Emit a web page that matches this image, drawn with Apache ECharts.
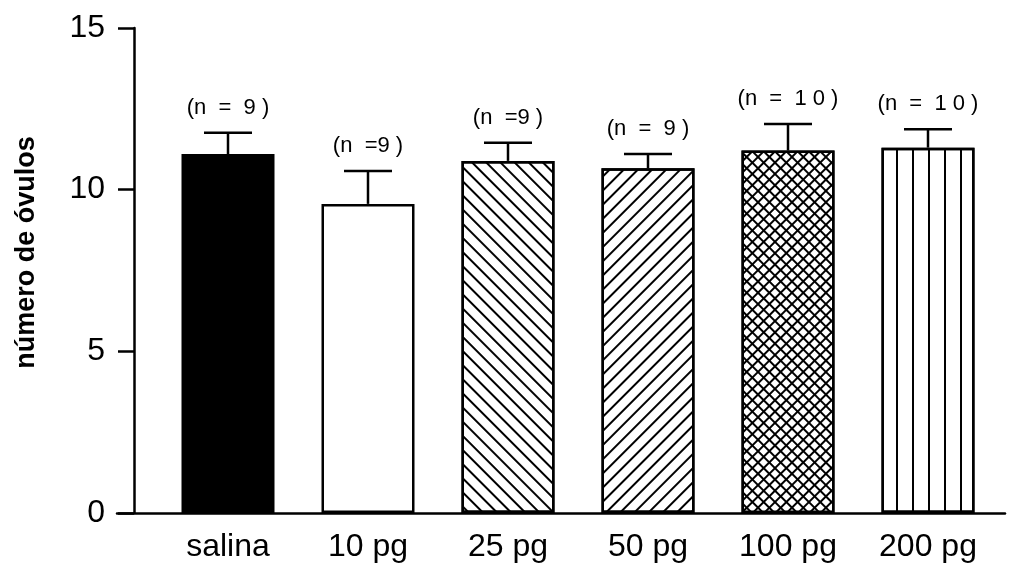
<!DOCTYPE html>
<html>
<head>
<meta charset="utf-8">
<script src="https://cdn.jsdelivr.net/npm/echarts@6/dist/echarts.min.js"></script>
<style>html,body{margin:0;padding:0;background:#fff}#c{width:1011px;height:567px}</style>
</head>
<body>
<div id="c"></div>
<script>
const categories = ['salina', '10 pg', '25 pg', '50 pg', '100 pg', '200 pg'];
const means = [11.10, 9.56, 10.89, 10.66, 11.21, 11.30];
const sems = [0.66, 1.02, 0.56, 0.44, 0.82, 0.57];
const nLabels = ['(n  =  9 )', '(n  =9 )', '(n  =9 )', '(n  =  9 )', '(n  =  1 0 )', '(n  =  1 0 )'];
const yTicks = [0, 5, 10, 15];

const FONT = '"Liberation Sans", Arial, Helvetica, sans-serif';
const W = 2.5;

const styles = [
  { color: '#000' },
  { color: '#fff' },
  { color: '#fff', decal: { symbol: 'rect', color: '#000', dashArrayX: [1, 0], dashArrayY: [1.5, 8], rotation: Math.PI / 4 } },
  { color: '#fff', decal: { symbol: 'rect', color: '#000', dashArrayX: [1, 0], dashArrayY: [1.5, 8], rotation: -Math.PI / 4 } },
  { color: '#000', decal: { symbol: 'rect', color: '#fff', dashArrayX: [5.4, 1.7], dashArrayY: [5.4, 1.7], rotation: Math.PI / 4 } },
  { color: '#fff', decal: { symbol: 'rect', color: '#000', dashArrayX: [1.6, 14], dashArrayY: [1, 0], rotation: 0 } }
];

const barData = means.map((v, i) => ({
  value: v,
  itemStyle: Object.assign({ borderColor: '#000', borderWidth: W }, styles[i])
}));

const errData = means.map((v, i) => [i, v, sems[i]]);

const chart = echarts.init(document.getElementById('c'), null, { renderer: 'canvas' });
chart.setOption({
  animation: false,
  backgroundColor: '#fff',
  textStyle: { fontFamily: FONT },
  grid: [
    { left: 117, right: 6, top: 28, bottom: 54 },
    { left: 158, right: 13, top: 28, bottom: 54 }
  ],
  xAxis: [
    { gridIndex: 0, type: 'category', data: categories, axisLine: { lineStyle: { color: '#000', width: W } }, axisTick: { show: false }, axisLabel: { show: false } },
    { gridIndex: 1, type: 'category', data: categories, axisLine: { show: false }, axisTick: { show: false },
      axisLabel: { color: '#000', fontSize: 32, fontFamily: FONT, margin: 18 } }
  ],
  yAxis: [
    { gridIndex: 0, type: 'value', min: 0, max: 15, interval: 5, show: false },
    { gridIndex: 1, type: 'value', min: 0, max: 15, interval: 5, offset: 24,
      name: 'número de óvulos', nameLocation: 'middle', nameGap: 94, nameRotate: 90,
      nameTextStyle: { color: '#000', fontSize: 27, fontWeight: 'bold', fontFamily: FONT, padding: [0, 0, 0, 36] },
      axisLine: { show: true, lineStyle: { color: '#000', width: W } },
      axisTick: { show: true, length: 16, lineStyle: { color: '#000', width: W } },
      axisLabel: { color: '#000', fontSize: 32, fontFamily: FONT, margin: 29,
        formatter: v => yTicks.indexOf(v) >= 0 ? String(v) : '' },
      splitLine: { show: false } }
  ],
  series: [
    { type: 'bar', xAxisIndex: 1, yAxisIndex: 1, data: barData, barWidth: 93, z: 2 },
    { type: 'custom', xAxisIndex: 1, yAxisIndex: 1, data: errData, z: 3,
      encode: { x: 0, y: 1 },
      renderItem: function (params, api) {
        const x = api.value(0), m = api.value(1), s = api.value(2);
        const base = api.coord([x, m]);
        const top = api.coord([x, m + s]);
        const half = 24;
        return {
          type: 'group',
          children: [
            { type: 'line', shape: { x1: base[0], y1: base[1], x2: top[0], y2: top[1] }, style: { stroke: '#000', lineWidth: W } },
            { type: 'line', shape: { x1: top[0] - half, y1: top[1], x2: top[0] + half, y2: top[1] }, style: { stroke: '#000', lineWidth: W } },
            { type: 'text', x: top[0], y: top[1] - 25, style: { text: nLabels[params.dataIndex], fill: '#000', font: '22px ' + FONT, align: 'center', verticalAlign: 'middle' } }
          ]
        };
      }
    }
  ]
});
</script>
</body>
</html>
